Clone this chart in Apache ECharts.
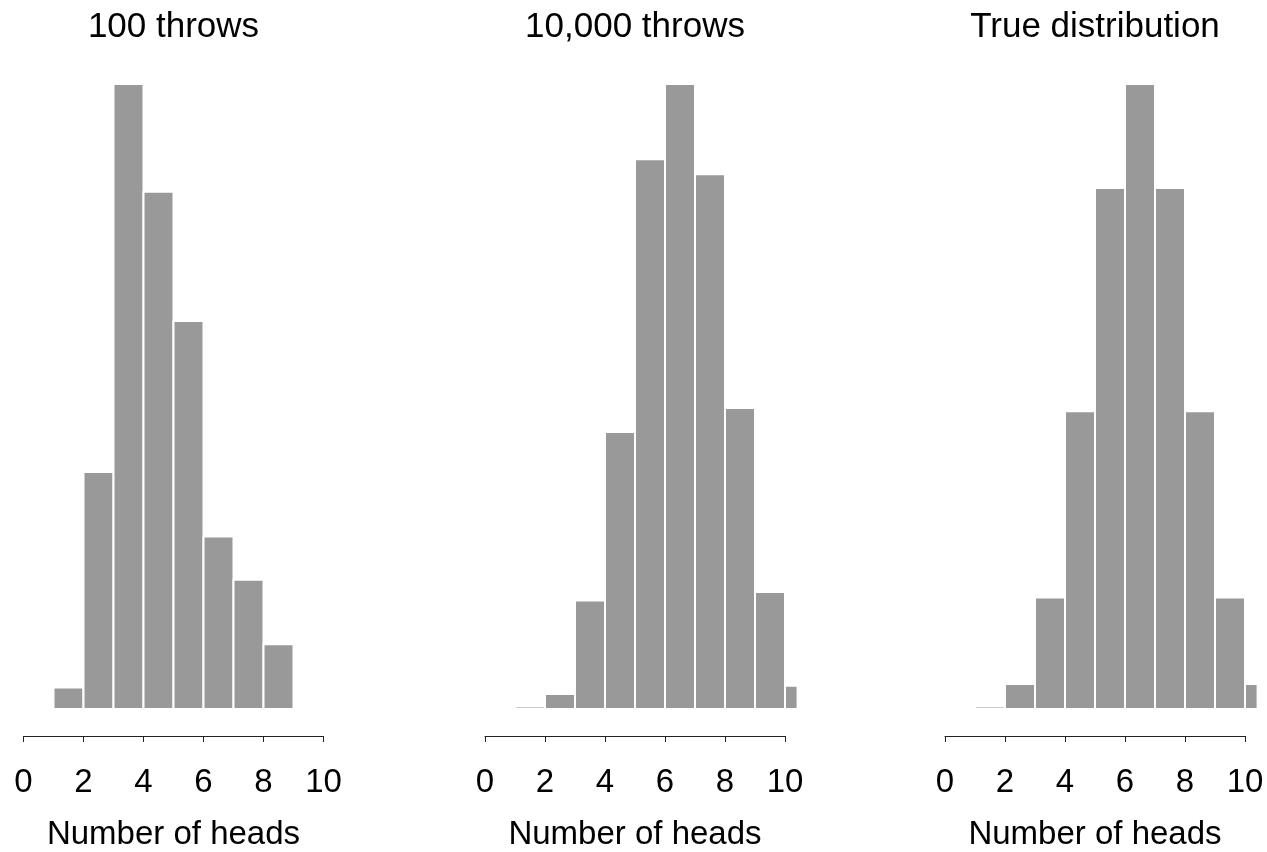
<!DOCTYPE html>
<html>
<head>
<meta charset="utf-8">
<script src="https://cdn.jsdelivr.net/npm/echarts@6/dist/echarts.min.js"></script>
<style>
  html, body { margin: 0; padding: 0; background: #fff; }
  #chart { width: 1267px; height: 852px; }
</style>
</head>
<body>
<div id="chart"></div>
<script>
// left edge of each unit-wide bin (number of heads, shifted as in the plot)
const binStarts = [1, 2, 3, 4, 5, 6, 7, 8, 9, 10, 11];

// bar heights
const counts100 = [1, 11, 29, 24, 18, 8, 6, 3, 0, 0, 0];
const counts10000 = [10, 59, 427, 1090, 2164, 2460, 2105, 1185, 461, 92, 10];
const trueProb = [0.001, 0.0098, 0.0439, 0.1172, 0.2051, 0.2461, 0.2051, 0.1172, 0.0439, 0.0098, 0.001];

const panelTitles = ['100 throws', '10,000 throws', 'True distribution'];
const panelData = [counts100, counts10000, trueProb];
const xTicks = { min: 0, max: 10, interval: 2 };

const FONT = '"Liberation Sans", Arial, Helvetica, sans-serif';
const chart = echarts.init(document.getElementById('chart'));

const pxPerUnit = 30;
const axisLefts = [23.5, 485, 945];
const pad = 0.42; // plot region reaches a bit beyond 0..10

function renderBin(params, api) {
  const p0 = api.coord([api.value(0), api.value(2)]);
  const p1 = api.coord([api.value(1), 0]);
  const cs = params.coordSys;
  const shape = echarts.graphic.clipRectByRect(
    { x: p0[0], y: p0[1], width: p1[0] - p0[0], height: p1[1] - p0[1] },
    { x: cs.x, y: cs.y - 2, width: cs.width, height: cs.height + 4 }
  );
  return shape && {
    type: 'rect',
    shape: shape,
    style: { fill: '#999999', stroke: '#ffffff', lineWidth: 2 }
  };
}

const grid = [], xAxis = [], yAxis = [], series = [], graphic = [];

panelData.forEach((vals, i) => {
  const axisLeft = axisLefts[i];
  // data grid (slightly wider than the drawn axis)
  grid.push({ left: axisLeft - pad * pxPerUnit, top: 84, width: (10 + 2 * pad) * pxPerUnit, height: 625 });
  xAxis.push({ gridIndex: 2 * i, type: 'value', min: -pad, max: 10 + pad, show: false });
  yAxis.push({ gridIndex: 2 * i, type: 'value', min: 0, max: Math.max(...vals), show: false });
  series.push({
    type: 'custom',
    xAxisIndex: 2 * i,
    yAxisIndex: 2 * i,
    renderItem: renderBin,
    encode: { x: [0, 1], y: 2 },
    data: binStarts.map((s, k) => [s, s + 1, vals[k]])
  });

  // axis grid: line only from 0 to 10
  grid.push({ left: axisLeft, top: 700, width: 10 * pxPerUnit, height: 36 });
  xAxis.push({
    gridIndex: 2 * i + 1,
    type: 'value',
    min: xTicks.min,
    max: xTicks.max,
    interval: xTicks.interval,
    splitLine: { show: false },
    axisLine: { lineStyle: { color: '#222', width: 1 } },
    axisTick: { length: 6, lineStyle: { color: '#222', width: 1 } },
    axisLabel: { color: '#000', fontSize: 33, fontFamily: FONT, margin: 30 },
    name: 'Number of heads',
    nameLocation: 'middle',
    nameGap: 82,
    nameTextStyle: { color: '#000', fontSize: 33, fontFamily: FONT }
  });
  yAxis.push({ gridIndex: 2 * i + 1, type: 'value', show: false });

  graphic.push({
    type: 'text',
    x: axisLeft + 5 * pxPerUnit,
    y: 27,
    style: {
      text: panelTitles[i],
      fill: '#000',
      font: '35px ' + FONT,
      align: 'center',
      verticalAlign: 'middle'
    }
  });
});

chart.setOption({
  backgroundColor: '#ffffff',
  animation: false,
  grid,
  xAxis,
  yAxis,
  series,
  graphic
});
</script>
</body>
</html>
